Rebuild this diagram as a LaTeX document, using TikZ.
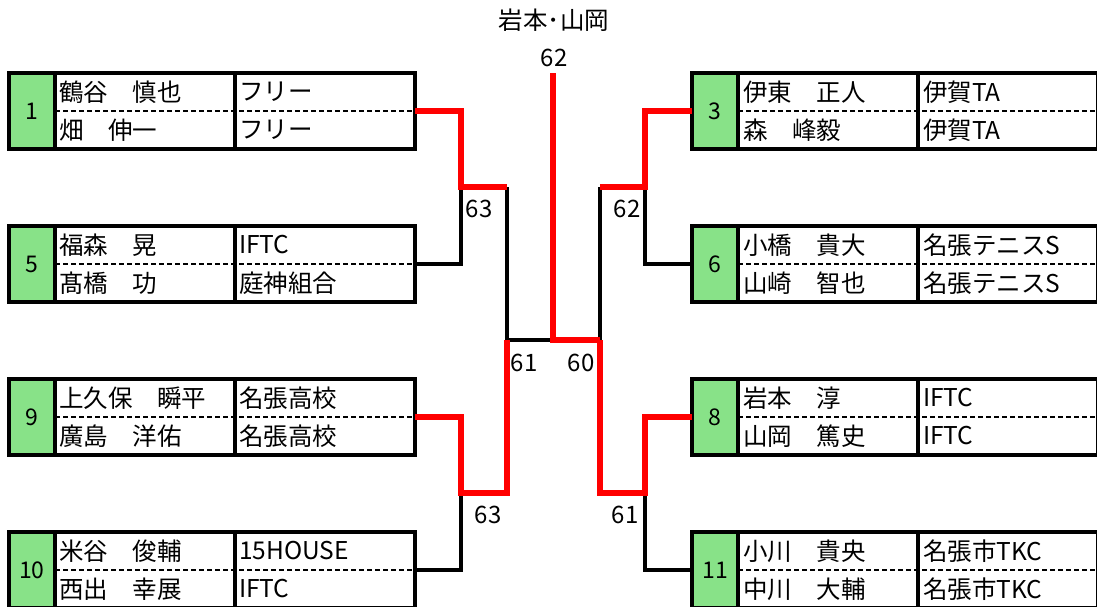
\documentclass[tikz,border=0pt]{standalone}
\usepackage{fontspec}
\setmainfont{Noto Sans CJK JP}
\usepackage{tikz}
\usetikzlibrary{positioning,calc}
\definecolor{seedgreen}{HTML}{88E288}
\definecolor{winred}{HTML}{FF0000}
\tikzset{%
  frame/.style = {%
    draw,
    line width=3.5pt,
    outer sep=0pt,
    inner sep=0pt,
    minimum width=360pt,
    minimum height=76pt},
  seed/.style = {%
    draw,
    line width=3.5pt,
    fill=seedgreen,
    outer sep=0pt,
    inner sep=0pt,
    minimum width=46pt,
    minimum height=76pt,
    font=\fontsize{23}{23}\selectfont}}

\begin{document}
\begin{tikzpicture}[x=1pt, y=-1pt,
txt/.style={anchor=west, inner sep=0pt, font=\fontsize{24.5}{24.5}\selectfont},
score/.style={inner sep=0pt, font=\fontsize{24}{24}\selectfont},
midline/.style={line width=2.6pt, dash pattern=on 5pt off 3pt},
rule/.style={line width=3.5pt},
lose/.style={line width=3.5pt, black},
win/.style={line width=5.5pt, winred},
]

\useasboundingbox (0,0) rectangle (1097,606);

% left side
\node[frame]               (b1)    at (235,111)     {};
\node[seed, left=0pt of b1] (s1)                     {1};
\draw[rule] (b1.north) -- (b1.south);
\draw[midline] (s1.east) -- (b1.east);
\node[txt]                 (n1a)   at (59,92)       {鶴谷　慎也};
\node[txt]                 (n1b)   at (59,130)      {畑　伸一};
\node[txt]                 (c1a)   at (239,92)      {フリー};
\node[txt]                 (c1b)   at (239,130)     {フリー};

\node[frame]               (b5)    at (235,264)     {};
\node[seed, left=0pt of b5] (s5)                     {5};
\draw[rule] (b5.north) -- (b5.south);
\draw[midline] (s5.east) -- (b5.east);
\node[txt]                 (n5a)   at (59,245)      {福森　晃};
\node[txt]                 (n5b)   at (59,283)      {髙橋　功};
\node[txt]                 (c5a)   at (239,245)     {IFTC};
\node[txt]                 (c5b)   at (239,283)     {庭神組合};

\node[frame]               (b9)    at (235,417)     {};
\node[seed, left=0pt of b9] (s9)                     {9};
\draw[rule] (b9.north) -- (b9.south);
\draw[midline] (s9.east) -- (b9.east);
\node[txt]                 (n9a)   at (59,398)      {上久保　瞬平};
\node[txt]                 (n9b)   at (59,436)      {廣島　洋佑};
\node[txt]                 (c9a)   at (239,398)     {名張高校};
\node[txt]                 (c9b)   at (239,436)     {名張高校};

\node[frame]               (b10)   at (235,570)     {};
\node[seed, left=0pt of b10] (s10)                   {10};
\draw[rule] (b10.north) -- (b10.south);
\draw[midline] (s10.east) -- (b10.east);
\node[txt]                 (n10a)  at (59,551)      {米谷　俊輔};
\node[txt]                 (n10b)  at (59,589)      {西出　幸展};
\node[txt]                 (c10a)  at (239,551)     {15HOUSE};
\node[txt]                 (c10b)  at (239,589)     {IFTC};

% right side
\node[frame]               (b3)    at (918,111)     {};
\node[seed, left=0pt of b3] (s3)                     {3};
\draw[rule] (b3.north) -- (b3.south);
\draw[midline] (s3.east) -- (b3.east);
\node[txt]                 (n3a)   at (743,92)      {伊東　正人};
\node[txt]                 (n3b)   at (743,130)     {森　峰毅};
\node[txt]                 (c3a)   at (923,92)      {伊賀TA};
\node[txt]                 (c3b)   at (923,130)     {伊賀TA};

\node[frame]               (b6)    at (918,264)     {};
\node[seed, left=0pt of b6] (s6)                     {6};
\draw[rule] (b6.north) -- (b6.south);
\draw[midline] (s6.east) -- (b6.east);
\node[txt]                 (n6a)   at (743,245)     {小橋　貴大};
\node[txt]                 (n6b)   at (743,283)     {山崎　智也};
\node[txt]                 (c6a)   at (923,245)     {名張テニスS};
\node[txt]                 (c6b)   at (923,283)     {名張テニスS};

\node[frame]               (b8)    at (918,417)     {};
\node[seed, left=0pt of b8] (s8)                     {8};
\draw[rule] (b8.north) -- (b8.south);
\draw[midline] (s8.east) -- (b8.east);
\node[txt]                 (n8a)   at (743,398)     {岩本　淳};
\node[txt]                 (n8b)   at (743,436)     {山岡　篤史};
\node[txt]                 (c8a)   at (923,398)     {IFTC};
\node[txt]                 (c8b)   at (923,436)     {IFTC};

\node[frame]               (b11)   at (918,570)     {};
\node[seed, left=0pt of b11] (s11)                   {11};
\draw[rule] (b11.north) -- (b11.south);
\draw[midline] (s11.east) -- (b11.east);
\node[txt]                 (n11a)  at (743,551)     {小川　貴央};
\node[txt]                 (n11b)  at (743,589)     {中川　大輔};
\node[txt]                 (c11a)  at (923,551)     {名張市TKC};
\node[txt]                 (c11b)  at (923,589)     {名張市TKC};

% bracket
\coordinate (qL1) at (461,187);
\coordinate (mL1) at (507,187);
\coordinate (mL)  at (507,340);
\coordinate (mL2) at (507,493);
\coordinate (qL2) at (461,493);
\coordinate (top) at (553,73);
\coordinate (fin) at (553,340);
\coordinate (qR1) at (645,187);
\coordinate (mR1) at (600,187);
\coordinate (mR)  at (600,340);
\coordinate (mR2) at (600,493);
\coordinate (qR2) at (645,493);

\draw[lose] (b5.east) -| (qL1);
\draw[lose] (mL1) -- (mL) -- (fin);
\draw[lose] (b10.east) -| (qL2);
\draw[lose] (s6.west) -| (qR1);
\draw[lose] (mR1) -- (mR);
\draw[lose] (s11.west) -| (qR2);

\draw[win] (b1.east) -| (qL1) -- (mL1);
\draw[win] (b9.east) -| (qL2) -- (mL2) -- (mL);
\draw[win] (top) -- (fin) -- (mR);
\draw[win] (s3.west) -| (qR1) -- (mR1);
\draw[win] (s8.west) -| (qR2) -- (mR2) -- (mR);

\node[score]               (t63)   at (479,209)     {63};
\node[score]               (t62)   at (627,209)     {62};
\node[score]               (t61)   at (524,363)     {61};
\node[score]               (t60)   at (581,363)     {60};
\node[score]               (u63)   at (488,515)     {63};
\node[score]               (u61)   at (625,515)     {61};
\node[score]               (f62)   at (554,58)      {62};
\node[txt, anchor=center]  (champ) at (554,20)      {岩本･山岡};

\end{tikzpicture}
\end{document}
